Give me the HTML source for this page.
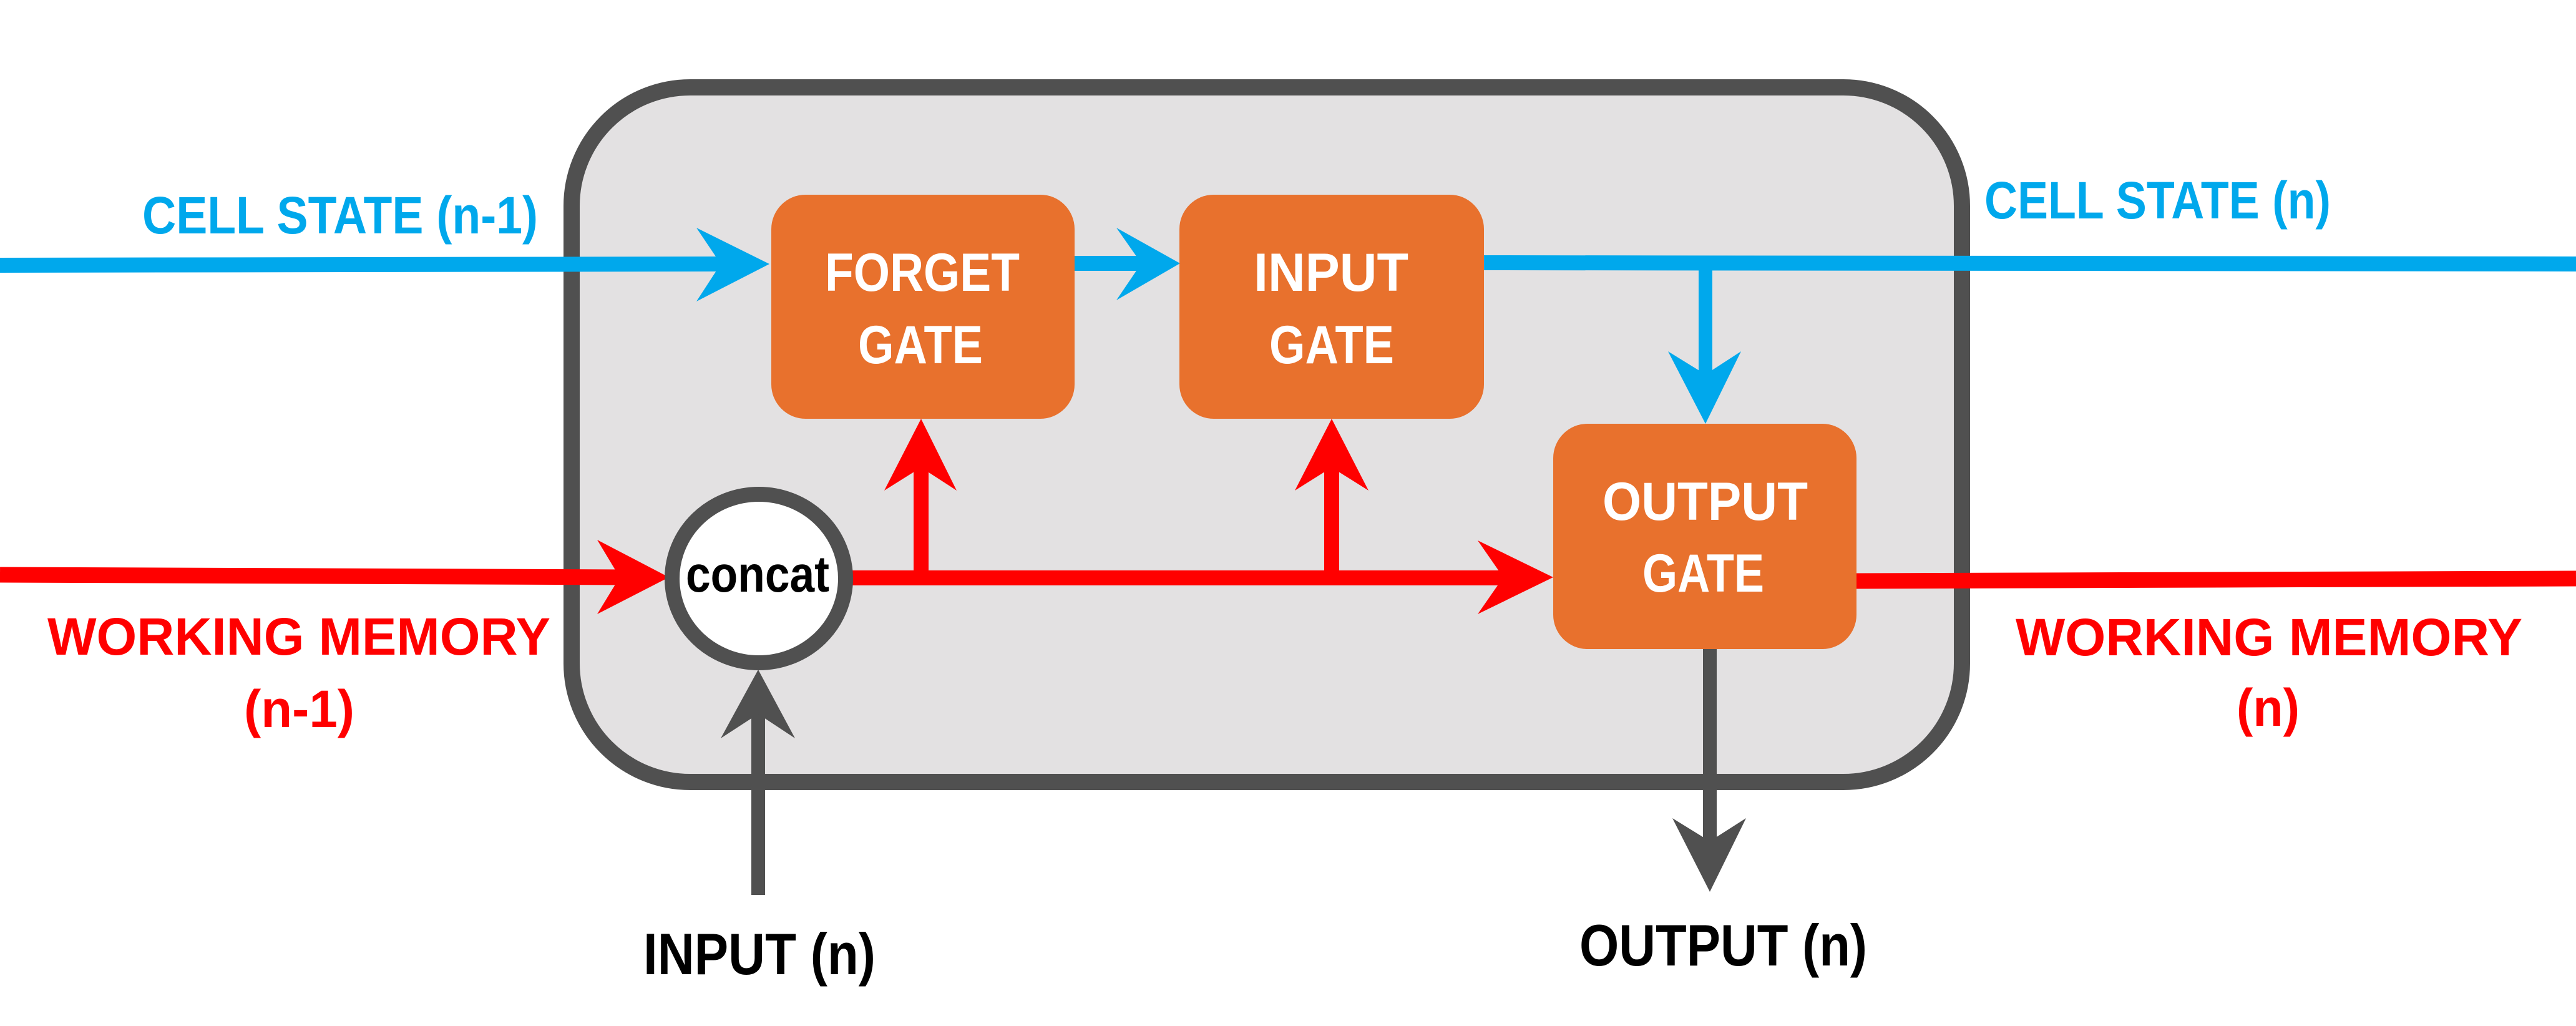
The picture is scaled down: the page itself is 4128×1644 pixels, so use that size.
<!DOCTYPE html>
<html><head><meta charset="utf-8"><style>
html,body{margin:0;padding:0;background:#fff;}
svg{display:block;}
text{font-family:"Liberation Sans",sans-serif;font-weight:bold;}
</style></head><body>
<svg width="4128" height="1644" viewBox="0 0 4128 1644" xmlns="http://www.w3.org/2000/svg">
<rect width="4128" height="1644" fill="#fff"/>
<!-- outer box -->
<rect x="916" y="140" width="2228" height="1113" rx="190" ry="190" fill="#e3e1e2" stroke="#505050" stroke-width="26"/>

<!-- blue lines -->
<line x1="0" y1="425" x2="1160" y2="423" stroke="#00a8ec" stroke-width="24"/>
<polygon points="1233,423 1116,365 1155,423 1116,483" fill="#00a8ec"/>
<line x1="1720" y1="422" x2="1835" y2="422" stroke="#00a8ec" stroke-width="24"/>
<polygon points="1891,422 1789,365 1829,422 1789,481" fill="#00a8ec"/>
<line x1="2376" y1="421" x2="4128" y2="423" stroke="#00a8ec" stroke-width="24"/>
<line x1="2733" y1="421" x2="2733" y2="605" stroke="#00a8ec" stroke-width="22"/>
<polygon points="2733,679 2673,563 2733,600 2790,563" fill="#00a8ec"/>

<!-- red lines -->
<line x1="0" y1="921" x2="1000" y2="925" stroke="#ff0000" stroke-width="25"/>
<polygon points="1072,925 957,865 993,925 957,984" fill="#ff0000"/>
<line x1="1360" y1="926" x2="2415" y2="926" stroke="#ff0000" stroke-width="24"/>
<polygon points="2489,925 2368,866 2409,925 2368,984" fill="#ff0000"/>
<line x1="1476" y1="926" x2="1476" y2="745" stroke="#ff0000" stroke-width="24"/>
<polygon points="1476,671 1417,786 1476,749 1533,786" fill="#ff0000"/>
<line x1="2134" y1="926" x2="2134" y2="745" stroke="#ff0000" stroke-width="24"/>
<polygon points="2134,671 2075,786 2134,749 2193,786" fill="#ff0000"/>
<line x1="2970" y1="931" x2="4128" y2="927" stroke="#ff0000" stroke-width="25"/>

<!-- gray arrows -->
<line x1="1215" y1="1434" x2="1215" y2="1140" stroke="#505050" stroke-width="22"/>
<polygon points="1215,1073 1155,1183 1215,1144 1274,1183" fill="#505050"/>
<line x1="2740" y1="1035" x2="2740" y2="1352" stroke="#505050" stroke-width="22"/>
<polygon points="2740,1429 2680,1311 2740,1348 2798,1311" fill="#505050"/>

<!-- gates -->
<rect x="1236" y="312" width="486" height="359" rx="55" fill="#e8712d"/>
<rect x="1890" y="312" width="488" height="359" rx="55" fill="#e8712d"/>
<rect x="2489" y="679" width="486" height="361" rx="55" fill="#e8712d"/>

<!-- concat circle -->
<ellipse cx="1216" cy="927" rx="139" ry="135" fill="#fff" stroke="#505050" stroke-width="24"/>
<text x="1099" y="948" font-size="82" fill="#000" textLength="230" lengthAdjust="spacingAndGlyphs">concat</text>

<!-- gate labels -->
<g fill="#fff" font-size="86">
<text x="1322" y="466" textLength="312" lengthAdjust="spacingAndGlyphs">FORGET</text>
<text x="1375" y="582" textLength="200" lengthAdjust="spacingAndGlyphs">GATE</text>
<text x="2009" y="466" textLength="248" lengthAdjust="spacingAndGlyphs">INPUT</text>
<text x="2034" y="582" textLength="200" lengthAdjust="spacingAndGlyphs">GATE</text>
<text x="2568" y="833" textLength="329" lengthAdjust="spacingAndGlyphs">OUTPUT</text>
<text x="2632" y="948" textLength="195" lengthAdjust="spacingAndGlyphs">GATE</text>
</g>

<!-- outside labels -->
<g font-size="84">
<text x="228" y="374" fill="#00a8ec" textLength="634" lengthAdjust="spacingAndGlyphs">CELL STATE (n-1)</text>
<text x="3180" y="350" fill="#00a8ec" textLength="555" lengthAdjust="spacingAndGlyphs">CELL STATE (n)</text>
<text x="76" y="1049" fill="#ff0000" textLength="806" lengthAdjust="spacingAndGlyphs">WORKING MEMORY</text>
<text x="391" y="1165" fill="#ff0000" textLength="177" lengthAdjust="spacingAndGlyphs">(n-1)</text>
<text x="3230" y="1050" fill="#ff0000" textLength="812" lengthAdjust="spacingAndGlyphs">WORKING MEMORY</text>
<text x="3584" y="1163" fill="#ff0000" textLength="101" lengthAdjust="spacingAndGlyphs">(n)</text>
</g>
<g font-size="94" fill="#000">
<text x="1031" y="1561" textLength="372" lengthAdjust="spacingAndGlyphs">INPUT (n)</text>
<text x="2531" y="1547" textLength="461" lengthAdjust="spacingAndGlyphs">OUTPUT (n)</text>
</g>
</svg>
</body></html>
